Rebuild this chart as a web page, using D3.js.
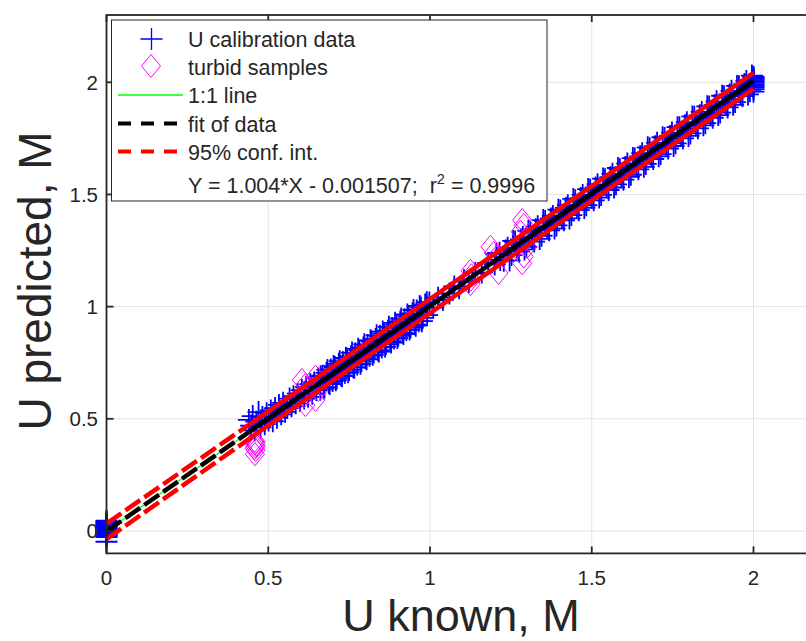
<!DOCTYPE html>
<html lang="en">
<head>
    <meta charset="UTF-8">
    <title>U predicted vs U known</title>
    <script src="https://d3js.org/d3.v7.min.js"></script>
    <style>
        body { margin: 0; background: white; }
        text {
            font-family: 'Liberation Sans', Arial, Helvetica, sans-serif;
            fill: #262626;
        }
    </style>
</head>
<body>
<script>
    const width = 806;
    const height = 641;

    // calibration data (U known, U predicted), first run
    const calX = [
        0, 0, 0, 0, 0, 0, 0, 0, 0, 0, 0, 0, 0, 0, 0, 0, 0, 0, 0, 0,
        0.440, 0.447, 0.452, 0.458, 0.463, 0.470, 0.476, 0.482, 0.489, 0.495,
        0.501, 0.508, 0.514, 0.521, 0.527, 0.533, 0.540, 0.546, 0.552, 0.559,
        0.566, 0.572, 0.578, 0.585, 0.591, 0.598, 0.604, 0.611, 0.617, 0.623,
        0.630, 0.636, 0.642, 0.649, 0.655, 0.661, 0.668, 0.674, 0.680, 0.687,
        0.693, 0.699, 0.706, 0.712, 0.718, 0.725, 0.731, 0.737, 0.744, 0.750,
        0.756, 0.763, 0.769, 0.775, 0.782, 0.788, 0.794, 0.801, 0.807, 0.813,
        0.820, 0.826, 0.832, 0.839, 0.845, 0.851, 0.858, 0.864, 0.870, 0.877,
        0.883, 0.889, 0.896, 0.902, 0.908, 0.915, 0.921, 0.927, 0.934, 0.940,
        0.946, 0.953, 0.959, 0.965, 0.972, 0.978, 0.985, 0.991, 0.998,
        1.010, 1.025, 1.040, 1.060, 1.075, 1.090, 1.105, 1.120, 1.140, 1.160,
        1.180, 1.200, 1.215, 1.228, 1.240, 1.252, 1.263, 1.275, 1.287, 1.298,
        1.310, 1.322, 1.333, 1.345, 1.356, 1.368, 1.380, 1.391, 1.403, 1.414,
        1.426, 1.437, 1.449, 1.460, 1.472, 1.483, 1.495, 1.506, 1.518, 1.529,
        1.541, 1.552, 1.564, 1.575, 1.587, 1.598, 1.610, 1.621, 1.633, 1.644,
        1.656, 1.667, 1.679, 1.690, 1.702, 1.713, 1.725, 1.736, 1.748, 1.759,
        1.771, 1.782, 1.794, 1.805, 1.817, 1.828, 1.840, 1.851, 1.863, 1.874,
        1.886, 1.897, 1.909, 1.920, 1.932, 1.943, 1.955, 1.966, 1.978, 1.989,
        2, 2, 2, 2, 2, 2, 2, 2, 2, 2, 2
    ];
    const calY = [
        0.046, 0.042, 0.038, 0.034, 0.030, 0.026, 0.022, 0.018, 0.014, 0.010,
        0.006, 0.002, -0.002, -0.006, -0.010, -0.014, -0.018, -0.022, -0.027, -0.048,
        0.495, 0.470, 0.512, 0.448, 0.487, 0.530, 0.462, 0.508, 0.476, 0.525,
        0.492, 0.537, 0.489, 0.548, 0.505, 0.562, 0.520, 0.571, 0.531, 0.548,
        0.590, 0.556, 0.601, 0.569, 0.612, 0.581, 0.628, 0.590, 0.641, 0.598,
        0.655, 0.612, 0.662, 0.628, 0.680, 0.630, 0.692, 0.641, 0.705, 0.660,
        0.720, 0.668, 0.731, 0.681, 0.745, 0.694, 0.752, 0.705, 0.768, 0.718,
        0.779, 0.730, 0.792, 0.742, 0.805, 0.756, 0.818, 0.770, 0.829, 0.781,
        0.845, 0.795, 0.856, 0.806, 0.870, 0.818, 0.880, 0.833, 0.893, 0.846,
        0.905, 0.858, 0.919, 0.870, 0.934, 0.884, 0.944, 0.896, 0.958, 0.908,
        0.970, 0.921, 0.983, 0.935, 0.996, 0.950, 1.010, 0.962, 1.018,
        0.996, 1.040, 1.030, 1.058, 1.090, 1.082, 1.118, 1.110, 1.150, 1.152,
        1.195, 1.188, 1.240, 1.205, 1.262, 1.230, 1.290, 1.246, 1.312, 1.266,
        1.334, 1.290, 1.358, 1.316, 1.382, 1.340, 1.404, 1.362, 1.428, 1.385,
        1.452, 1.408, 1.474, 1.430, 1.498, 1.452, 1.521, 1.474, 1.545, 1.498,
        1.568, 1.520, 1.592, 1.545, 1.612, 1.566, 1.638, 1.588, 1.660, 1.612,
        1.684, 1.636, 1.706, 1.658, 1.730, 1.680, 1.752, 1.705, 1.776, 1.728,
        1.800, 1.750, 1.822, 1.772, 1.846, 1.795, 1.868, 1.818, 1.892, 1.842,
        1.915, 1.865, 1.938, 1.888, 1.962, 1.912, 1.982, 1.938, 2.006, 1.960,
        2.025, 2.020, 2.015, 2.010, 2.004, 1.998, 1.991, 1.984, 1.978, 1.970, 1.958
    ];

    // calibration data, second run
    const cal2X = [
        0.662, 0.671, 0.683, 0.690, 0.702, 0.709, 0.721, 0.728, 0.740, 0.747,
        0.759, 0.766, 0.778, 0.785, 0.797, 0.804, 0.816, 0.823, 0.835, 0.842,
        0.854, 0.861, 0.873, 0.880, 0.892, 0.899, 0.911, 0.918, 0.930, 0.937,
        0.949, 0.956, 0.968, 0.975, 0.990,
        1.205, 1.217, 1.234, 1.246, 1.257, 1.269, 1.281, 1.292, 1.304, 1.316,
        1.327, 1.339, 1.350, 1.362, 1.374, 1.385, 1.397, 1.408, 1.420, 1.431,
        1.443, 1.454, 1.466, 1.477, 1.489, 1.500, 1.512, 1.523, 1.535, 1.546,
        1.558, 1.569, 1.581, 1.592, 1.604, 1.615, 1.627, 1.638, 1.650, 1.661,
        1.673, 1.684, 1.696, 1.707, 1.719, 1.730, 1.742, 1.753, 1.765, 1.776,
        1.788, 1.799, 1.811, 1.822, 1.834, 1.845, 1.857, 1.868, 1.880, 1.891,
        1.903, 1.914, 1.926, 1.937, 1.949, 1.960, 1.972, 1.983, 1.995
    ];
    const cal2Y = [
        0.690, 0.635, 0.718, 0.655, 0.735, 0.672, 0.757, 0.690, 0.772, 0.708,
        0.795, 0.728, 0.812, 0.745, 0.832, 0.765, 0.850, 0.785, 0.872, 0.800,
        0.889, 0.822, 0.910, 0.840, 0.928, 0.860, 0.947, 0.878, 0.965, 0.898,
        0.985, 0.915, 1.003, 0.935, 1.020,
        1.235, 1.208, 1.250, 1.206, 1.293, 1.262, 1.300, 1.255, 1.338, 1.305,
        1.345, 1.302, 1.386, 1.352, 1.393, 1.348, 1.432, 1.398, 1.440, 1.393,
        1.480, 1.445, 1.484, 1.440, 1.524, 1.490, 1.531, 1.486, 1.571, 1.536,
        1.577, 1.531, 1.618, 1.583, 1.622, 1.578, 1.662, 1.628, 1.670, 1.623,
        1.710, 1.675, 1.715, 1.670, 1.755, 1.720, 1.761, 1.716, 1.800, 1.767,
        1.808, 1.761, 1.848, 1.812, 1.853, 1.808, 1.893, 1.858, 1.898, 1.854,
        1.940, 1.905, 1.946, 1.900, 1.984, 1.950, 1.992, 1.946, 2.030
    ];

    // turbid samples
    const turbX = [
        0.458, 0.461, 0.459, 0.462, 0.460, 0.458, 0.461, 0.459,
        0.604, 0.615, 0.610, 0.646, 0.655, 0.646, 0.615, 0.625,
        1.125, 1.128, 1.126, 1.125,
        1.187, 1.197, 1.212, 1.205,
        1.285, 1.290, 1.280, 1.300, 1.290, 1.285, 1.295
    ];
    const turbY = [
        0.402, 0.396, 0.390, 0.384, 0.376, 0.368, 0.360, 0.342,
        0.673, 0.651, 0.599, 0.688, 0.628, 0.584, 0.561, 0.640,
        1.160, 1.140, 1.120, 1.100,
        1.267, 1.239, 1.150, 1.220,
        1.386, 1.364, 1.334, 1.267, 1.223, 1.193, 1.300
    ];

    // lines: 1:1, linear fit, 95% confidence bounds
    const oneX = [0, 2];
    const oneY = [0, 2];
    const fitX = [0, 2];
    const fitY = [-0.0015, 2.0065];
    const confX = [0, 0.5, 1, 1.5, 2];
    const confUp = [0.033, 0.533, 1.034, 1.537, 2.042];
    const confLo = [-0.036, 0.470, 0.971, 1.473, 1.971];

    const xTicks = [0, 0.5, 1, 1.5, 2];
    const yTicks = [0, 0.5, 1, 1.5, 2];

    const legendLabels = ["U calibration data", "turbid samples", "1:1 line", "fit of data", "95% conf. int."];

    const x = d3.scaleLinear().domain([0, 2.2]).range([106.5, 818.2]);
    const y = d3.scaleLinear().domain([-0.1, 2.3]).range([553.4, 15]);

    const svg = d3.select("body").append("svg").attr("width", width).attr("height", height);

    const axisColor = "#262626";
    const xLeft = x.range()[0], xRight = x.range()[1];
    const yTop = y.range()[1], yBottom = y.range()[0];

    // grid
    const grid = svg.append("g").attr("stroke", "#e3e3e3").attr("stroke-width", 1);
    grid.selectAll(".gx").data(xTicks.filter(d => d > 0)).join("line")
        .attr("x1", d => x(d)).attr("x2", d => x(d))
        .attr("y1", yTop).attr("y2", yBottom);
    grid.selectAll(".gy").data(yTicks).join("line")
        .attr("x1", xLeft).attr("x2", xRight)
        .attr("y1", d => y(d)).attr("y2", d => y(d));

    // calibration points
    const cal = calX.map((d, i) => [d, calY[i]])
        .concat(cal2X.map((d, i) => [d, cal2Y[i]]));
    svg.append("g").selectAll("path").data(cal).join("path")
        .attr("transform", d => `translate(${x(d[0])},${y(d[1])})`)
        .attr("d", "M-11,0H11M0,-11V11")
        .attr("stroke", "#0000ff").attr("stroke-width", 1.8).attr("fill", "none");

    // turbid samples
    const turb = turbX.map((d, i) => [d, turbY[i]]);
    svg.append("g").selectAll("path").data(turb).join("path")
        .attr("transform", d => `translate(${x(d[0])},${y(d[1])})`)
        .attr("d", "M0,-11.5L9.5,0L0,11.5L-9.5,0Z")
        .attr("stroke", "#ff00ff").attr("stroke-width", 1).attr("fill", "none");

    const line = d3.line().x(d => x(d[0])).y(d => y(d[1]));

    // 1:1 line
    svg.append("path").datum(oneX.map((d, i) => [d, oneY[i]]))
        .attr("d", line).attr("stroke", "#00ff00").attr("stroke-width", 1.2).attr("fill", "none");

    // fit and bounds: dashed in the empty low part, solid-looking where data sits
    const split = 0.44;
    function drawLine(xs, ys, color) {
        const pts = xs.map((d, i) => [d, ys[i]]);
        const interp = d3.scaleLinear().domain(xs).range(ys);
        const low = [[xs[0], ys[0]], [split, interp(split)]];
        const high = [[split, interp(split)]].concat(pts.filter(p => p[0] > split));
        svg.append("path").datum(low).attr("d", line)
            .attr("stroke", color).attr("stroke-width", 4.5).attr("fill", "none")
            .attr("stroke-dasharray", "18,5");
        svg.append("path").datum(high).attr("d", line)
            .attr("stroke", color).attr("stroke-width", 4.5).attr("fill", "none");
    }
    drawLine(fitX, fitY, "#000000");
    drawLine(confX, confUp, "#ff0000");
    drawLine(confX, confLo, "#ff0000");

    // axes box
    svg.append("rect").attr("x", xLeft).attr("y", yTop)
        .attr("width", xRight - xLeft).attr("height", yBottom - yTop)
        .attr("fill", "none").attr("stroke", axisColor).attr("stroke-width", 1.8);

    // ticks (inward, both sides)
    const tk = svg.append("g").attr("stroke", axisColor).attr("stroke-width", 1.8);
    xTicks.forEach(d => {
        tk.append("line").attr("x1", x(d)).attr("x2", x(d)).attr("y1", yBottom).attr("y2", yBottom - 7);
        tk.append("line").attr("x1", x(d)).attr("x2", x(d)).attr("y1", yTop).attr("y2", yTop + 7);
    });
    yTicks.forEach(d => {
        tk.append("line").attr("x1", xLeft).attr("x2", xLeft + 7).attr("y1", y(d)).attr("y2", y(d));
    });

    svg.append("g").selectAll("text").data(xTicks).join("text")
        .attr("x", d => x(d)).attr("y", 585)
        .attr("text-anchor", "middle").style("font-size", "20.5px")
        .text(d => d3.format("")(d));
    svg.append("g").selectAll("text").data(yTicks).join("text")
        .attr("x", 98).attr("y", d => y(d) + 7.3)
        .attr("text-anchor", "end").style("font-size", "20.5px")
        .text(d => d3.format("")(d));

    // axis labels
    svg.append("text").attr("x", 461).attr("y", 631)
        .attr("text-anchor", "middle").style("font-size", "45px")
        .text("U known, M");
    svg.append("text").attr("transform", "translate(51,281) rotate(-90)")
        .attr("text-anchor", "middle").style("font-size", "46px")
        .text("U predicted, M");

    // legend
    const lg = svg.append("g");
    lg.append("rect").attr("x", 111.5).attr("y", 20).attr("width", 435.5).attr("height", 181)
        .attr("fill", "white").attr("stroke", axisColor).attr("stroke-width", 1);
    const baselines = [46.5, 74.5, 103, 131.5, 159.5];
    lg.selectAll(".lt").data(legendLabels).join("text")
        .attr("x", 188).attr("y", (d, i) => baselines[i])
        .style("font-size", "21.5px").text(d => d);
    lg.append("path").attr("transform", "translate(151.5,39)")
        .attr("d", "M-11,0H11M0,-11V11").attr("stroke", "#0000ff").attr("stroke-width", 1.3);
    lg.append("path").attr("transform", "translate(151,66)")
        .attr("d", "M0,-11.5L9.5,0L0,11.5L-9.5,0Z").attr("stroke", "#ff00ff").attr("stroke-width", 1).attr("fill", "none");
    lg.append("line").attr("x1", 118).attr("x2", 183).attr("y1", 95).attr("y2", 95)
        .attr("stroke", "#00ff00").attr("stroke-width", 1.5);
    lg.append("line").attr("x1", 118).attr("x2", 183).attr("y1", 123.5).attr("y2", 123.5)
        .attr("stroke", "#000000").attr("stroke-width", 4).attr("stroke-dasharray", "13,10");
    lg.append("line").attr("x1", 118).attr("x2", 183).attr("y1", 151.5).attr("y2", 151.5)
        .attr("stroke", "#ff0000").attr("stroke-width", 4).attr("stroke-dasharray", "13,10");
    const eq = lg.append("text").attr("x", 188).attr("y", 192.5)
        .attr("xml:space", "preserve").style("white-space", "pre").style("font-size", "21.5px");
    eq.append("tspan").text("Y = 1.004*X - 0.001507;  r");
    eq.append("tspan").attr("dy", -9).style("font-size", "14.5px").text("2");
    eq.append("tspan").attr("dy", 9).text(" = 0.9996");
</script>
</body>
</html>
